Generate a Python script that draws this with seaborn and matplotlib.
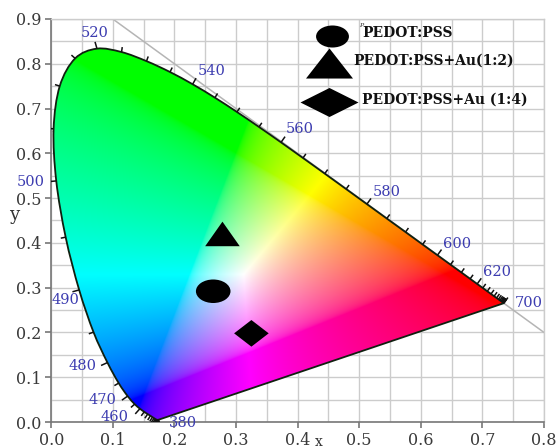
import numpy as np
import matplotlib
matplotlib.use("Agg")
import matplotlib.pyplot as plt
import seaborn as sns
import pandas as pd
from matplotlib.path import Path
from matplotlib.patches import PathPatch
from matplotlib.transforms import Affine2D

# CIE 1931 2-degree spectral locus, 5 nm steps
wavelengths = list(range(380, 705, 5))
locus_x = [0.1741, 0.1740, 0.1738, 0.1736, 0.1733, 0.1730, 0.1726, 0.1721, 0.1714, 0.1703,
           0.1689, 0.1669, 0.1644, 0.1611, 0.1566, 0.1510, 0.1440, 0.1355, 0.1241, 0.1096,
           0.0913, 0.0687, 0.0454, 0.0235, 0.0082, 0.0039, 0.0139, 0.0389, 0.0743, 0.1142,
           0.1547, 0.1929, 0.2296, 0.2658, 0.3016, 0.3373, 0.3731, 0.4087, 0.4441, 0.4788,
           0.5125, 0.5448, 0.5752, 0.6029, 0.6270, 0.6482, 0.6658, 0.6801, 0.6915, 0.7006,
           0.7079, 0.7140, 0.7190, 0.7230, 0.7260, 0.7283, 0.7300, 0.7311, 0.7320, 0.7327,
           0.7334, 0.7340, 0.7344, 0.7346, 0.7347]
locus_y = [0.0050, 0.0050, 0.0049, 0.0049, 0.0048, 0.0048, 0.0048, 0.0048, 0.0051, 0.0058,
           0.0069, 0.0086, 0.0109, 0.0138, 0.0177, 0.0227, 0.0297, 0.0399, 0.0578, 0.0868,
           0.1327, 0.2007, 0.2950, 0.4127, 0.5384, 0.6548, 0.7502, 0.8120, 0.8338, 0.8262,
           0.8059, 0.7816, 0.7543, 0.7243, 0.6923, 0.6589, 0.6245, 0.5896, 0.5547, 0.5202,
           0.4866, 0.4544, 0.4242, 0.3965, 0.3725, 0.3514, 0.3340, 0.3197, 0.3083, 0.2993,
           0.2920, 0.2859, 0.2809, 0.2770, 0.2740, 0.2717, 0.2700, 0.2689, 0.2680, 0.2673,
           0.2666, 0.2660, 0.2656, 0.2654, 0.2653]
labelled_nm = [380, 460, 470, 480, 490, 500, 520, 540, 560, 580, 600, 620, 700]

# Measured chromaticity coordinates of the films
samples = ["PEDOT:PSS", "PEDOT:PSS+Au(1:2)", "PEDOT:PSS+Au (1:4)"]
cie_x = [0.263, 0.278, 0.325]
cie_y = [0.292, 0.420, 0.198]

x_ticks = [0.0, 0.1, 0.2, 0.3, 0.4, 0.5, 0.6, 0.7, 0.8]
y_ticks = [0.0, 0.1, 0.2, 0.3, 0.4, 0.5, 0.6, 0.7, 0.8, 0.9]

# label offsets (pixels) for the wavelength annotations
label_offset = {380: (24, -3), 460: (-25, -8), 470: (-25, -4), 480: (-25, -3),
                490: (-14, -10), 500: (-26, -1), 520: (-2, 16), 540: (19, 13),
                560: (19, 13), 580: (20, 12), 600: (20, 11), 620: (20, 12), 700: (25, 0)}

sns.set_theme(style="whitegrid")
plt.rcParams["font.family"] = ["DejaVu Serif"]

fig = plt.figure(figsize=(5.57, 4.48), dpi=100)
ax = fig.add_axes([51.2 / 557, 1 - 422 / 448, 492.8 / 557, 403 / 448])
ax.set_facecolor("white")
ax.set_xlim(0, 0.8)
ax.set_ylim(0, 0.9)

# grid every 0.05
ax.set_xticks(x_ticks)
ax.set_yticks(y_ticks)
ax.set_xticks(np.arange(0, 0.801, 0.05), minor=True)
ax.set_yticks(np.arange(0, 0.901, 0.05), minor=True)
ax.set_xticklabels([f"{v:.1f}" for v in x_ticks])
ax.set_yticklabels([f"{v:.1f}" for v in y_ticks])
ax.grid(which="both", color="#cccccc", lw=1.0)
ax.set_axisbelow(True)
ax.tick_params(which="major", direction="out", length=4, width=1.2, color="#777777",
               labelsize=11.5, labelcolor="#3a3a3a", pad=3, left=True, bottom=True)
ax.tick_params(which="minor", length=0)
for side in ("top", "right"):
    ax.spines[side].set_color("#cccccc")
    ax.spines[side].set_linewidth(1.0)
for side in ("left", "bottom"):
    ax.spines[side].set_color("#777777")
    ax.spines[side].set_linewidth(1.2)

# x + y = 1 line
ax.plot([0.1, 0.8], [0.9, 0.2], color="#b5b5b5", lw=1.1, zorder=0.8)

# chromaticity colour fill
gx = np.linspace(0, 0.8, 640)
gy = np.linspace(0, 0.9, 720)
GX, GY = np.meshgrid(gx, gy)
Yc = np.clip(GY, 1e-4, None)
XYZ = np.stack([GX / Yc, np.ones_like(GX), (1 - GX - GY) / Yc], -1)
M = np.array([[3.2406, -1.5372, -0.4986],
              [-0.9689, 1.8758, 0.0415],
              [0.0557, -0.2040, 1.0570]])
rgb = np.clip(XYZ @ M.T, 0, None)
rgb /= rgb.max(-1, keepdims=True) + 1e-12
rgb = np.where(rgb <= 0.0031308, 12.92 * rgb, 1.055 * rgb ** (1 / 2.4) - 0.055)
rgb = np.clip(rgb, 0, 1)
im = ax.imshow(rgb, extent=[0, 0.8, 0, 0.9], origin="lower", aspect="auto",
               interpolation="bilinear", zorder=1)

# smooth outline through the locus points (Catmull-Rom as cubic Bezier),
# closed by the straight line of purples
P = np.column_stack([locus_x, locus_y])
verts = [P[0]]
codes = [Path.MOVETO]
for i in range(len(P) - 1):
    p0 = P[max(i - 1, 0)]
    p1, p2 = P[i], P[i + 1]
    p3 = P[min(i + 2, len(P) - 1)]
    verts += [p1 + (p2 - p0) / 6, p2 - (p3 - p1) / 6, p2]
    codes += [Path.CURVE4] * 3
verts += [P[0], P[0]]
codes += [Path.LINETO, Path.CLOSEPOLY]
outline = PathPatch(Path(np.array(verts), codes), facecolor="none",
                    edgecolor="#102010", lw=1.3, zorder=3)
ax.add_patch(outline)
im.set_clip_path(outline)

# wavelength ticks along the locus
pts = ax.transData.transform(P)
n = len(pts)
inv = ax.transData.inverted()
for i, nm in enumerate(wavelengths):
    t = pts[min(i + 2, n - 1)] - pts[max(i - 2, 0)]
    t = t / (np.hypot(*t) + 1e-9)
    nrm = np.array([-t[1], t[0]])
    L = 7 if nm in labelled_nm else 5
    seg = inv.transform([pts[i], pts[i] + nrm * L])
    ax.plot(seg[:, 0], seg[:, 1], color="#111111", lw=1.1, zorder=3, solid_capstyle="butt")
    if nm in labelled_nm:
        ax.annotate(str(nm), xy=(locus_x[i], locus_y[i]), xytext=label_offset[nm],
                    textcoords="offset pixels", ha="center", va="center",
                    color="#3c3cb0", fontsize=10.5, zorder=4, annotation_clip=False)

# sample points
def shape(kind, aspect):
    if kind == "o":
        p = Path.unit_circle()
    elif kind == "^":
        p = Path([(0, 1), (-1, -1), (1, -1), (0, 1)], [1, 2, 2, 79])
    else:
        p = Path([(0, 1), (1, 0), (0, -1), (-1, 0), (0, 1)], [1, 2, 2, 2, 79])
    return p.transformed(Affine2D().scale(1, aspect))

df = pd.DataFrame({"x": cie_x, "y": cie_y, "sample": samples})
marks = {samples[0]: shape("o", 0.68), samples[1]: shape("^", 0.71), samples[2]: shape("D", 0.77)}
sns.scatterplot(data=df, x="x", y="y", style="sample", markers=marks, s=620,
                color="black", linewidth=0, legend=False, ax=ax, zorder=6)

# legend
legend_items = [
    (shape("o", 0.67), 560, (0.569, 0.958), (0.631, 0.965)),
    (shape("^", 0.64), 1145, (0.563, 0.891), (0.614, 0.896)),
    (shape("D", 0.50), 1745, (0.564, 0.793), (0.631, 0.801)),
]
for (mk, sz, mpos, tpos), name in zip(legend_items, samples):
    ax.scatter([mpos[0]], [mpos[1]], marker=mk, s=sz, color="black", linewidths=0,
               transform=ax.transAxes, zorder=7, clip_on=False)
    ax.text(tpos[0], tpos[1], name, transform=ax.transAxes, ha="left", va="center",
            fontsize=10, fontweight="bold", color="#111111", zorder=7)
ax.text(0.630, 0.985, "P", transform=ax.transAxes, ha="center", va="center",
        fontsize=4.5, style="italic", color="#333333")

ax.set_xlabel("x", fontsize=10, color="#333333", va="center", ha="center")
ax.set_ylabel("y", fontsize=13, color="#333333", rotation=0, va="center")
ax.xaxis.set_label_coords(0.542, -0.05)
ax.yaxis.set_label_coords(-0.0755, 0.514)

fig.savefig("out.png", dpi=100)
